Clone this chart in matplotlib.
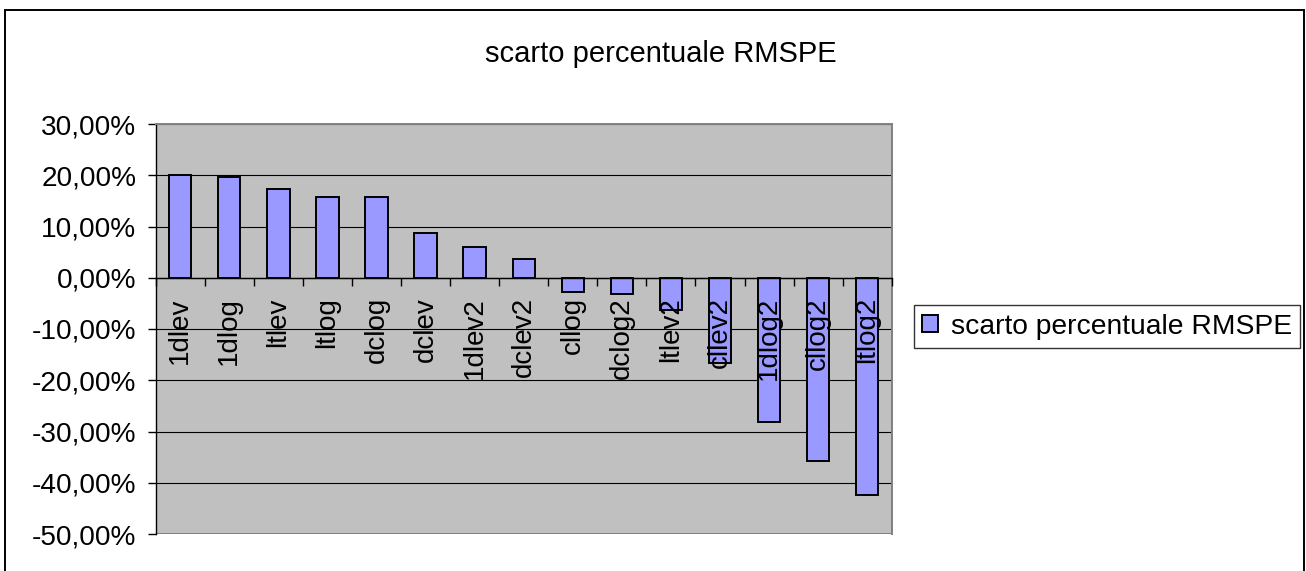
import matplotlib
matplotlib.use("Agg")
import matplotlib.pyplot as plt
from matplotlib.patches import Rectangle
from matplotlib.ticker import FixedLocator, FuncFormatter
import numpy as np

plt.rcParams["font.family"] = ["Liberation Sans", "DejaVu Sans"]

title = "scarto percentuale RMSPE"
series_name = "scarto percentuale RMSPE"
categories = ["1dlev", "1dlog", "ltlev", "ltlog", "dclog", "dclev", "1dlev2",
              "dclev2", "cllog", "dclog2", "ltlev2", "cllev2", "1dlog2",
              "cllog2", "ltlog2"]
values = [0.200, 0.196, 0.173, 0.157, 0.157, 0.087, 0.060, 0.036,
          -0.028, -0.032, -0.062, -0.167, -0.282, -0.357, -0.423]
y_ticks = [-0.5, -0.4, -0.3, -0.2, -0.1, 0.0, 0.1, 0.2, 0.3]

W, H = 1306, 571
fig = plt.figure(figsize=(W / 100, H / 100), dpi=100)

# outer chart frame
fig.patches.append(Rectangle((5 / W, -0.05), (1304 - 5) / W, 1.05 - 10 / H,
                             transform=fig.transFigure, fill=False,
                             edgecolor="black", linewidth=1.4))

left, right, top, bottom = 155.7, 891.7, 124, 534
ax = fig.add_axes([left / W, 1 - bottom / H, (right - left) / W, (bottom - top) / H])
ax.set_facecolor("#C0C0C0")

x = np.arange(len(categories))
bars = ax.bar(x, values, width=1 / 2.2, color="#9999FF", edgecolor="black",
              linewidth=1.4, zorder=1, label=series_name)

ax.set_xlim(-0.5, len(categories) - 0.5)
ax.set_ylim(min(y_ticks), max(y_ticks))

# horizontal gridlines
ax.set_axisbelow(True)
ax.yaxis.grid(True, color="black", linewidth=0.8)
ax.set_yticks(y_ticks)
ax.yaxis.set_major_formatter(FuncFormatter(lambda v, p: f"{v * 100:.2f}%".replace(".", ",")))
ax.tick_params(axis="y", direction="out", length=6, width=1, labelsize=20.2, pad=8)

# category axis sits on the zero line, labels drawn over the bars
ax.spines["bottom"].set_position(("data", 0))
ax.spines["bottom"].set_color("black")
ax.spines["bottom"].set_linewidth(1)
ax.spines["bottom"].set_zorder(3)
ax.xaxis.set_zorder(3)
ax.xaxis.set_major_locator(FixedLocator(np.arange(len(categories) + 1) - 0.5))
ax.xaxis.set_minor_locator(FixedLocator(x))
ax.xaxis.set_major_formatter(FuncFormatter(lambda v, p: ""))
ax.xaxis.set_minor_formatter(FuncFormatter(lambda v, p: categories[int(round(v))]))
ax.tick_params(axis="x", which="major", direction="out", length=5.5, width=1)
ax.tick_params(axis="x", which="minor", length=0, labelsize=20, pad=14,
               labelrotation=90)

ax.spines["left"].set_color("black")
ax.spines["left"].set_linewidth(1)
for s in ("top", "right"):
    ax.spines[s].set_color("#808080")
    ax.spines[s].set_linewidth(1.4)
# plot area lower border
ax.add_patch(Rectangle((0, 0), 1, 1, transform=ax.transAxes, fill=False,
                       edgecolor="#808080", linewidth=1.4, zorder=0.6))

fig.text(661 / W, 1 - 62 / H, title, ha="center", va="baseline", fontsize=21)

leg = fig.legend(handles=[bars], labels=[series_name], loc="center left",
                 bbox_to_anchor=(914 / W, 1 - 326.7 / H), fontsize=20.3,
                 frameon=True, fancybox=False, edgecolor="black",
                 handlelength=0.55, handleheight=0.55, handletextpad=0.45,
                 borderpad=0.3, borderaxespad=0)
leg.get_frame().set_linewidth(1.0)

fig.savefig("out.png", dpi=100)
